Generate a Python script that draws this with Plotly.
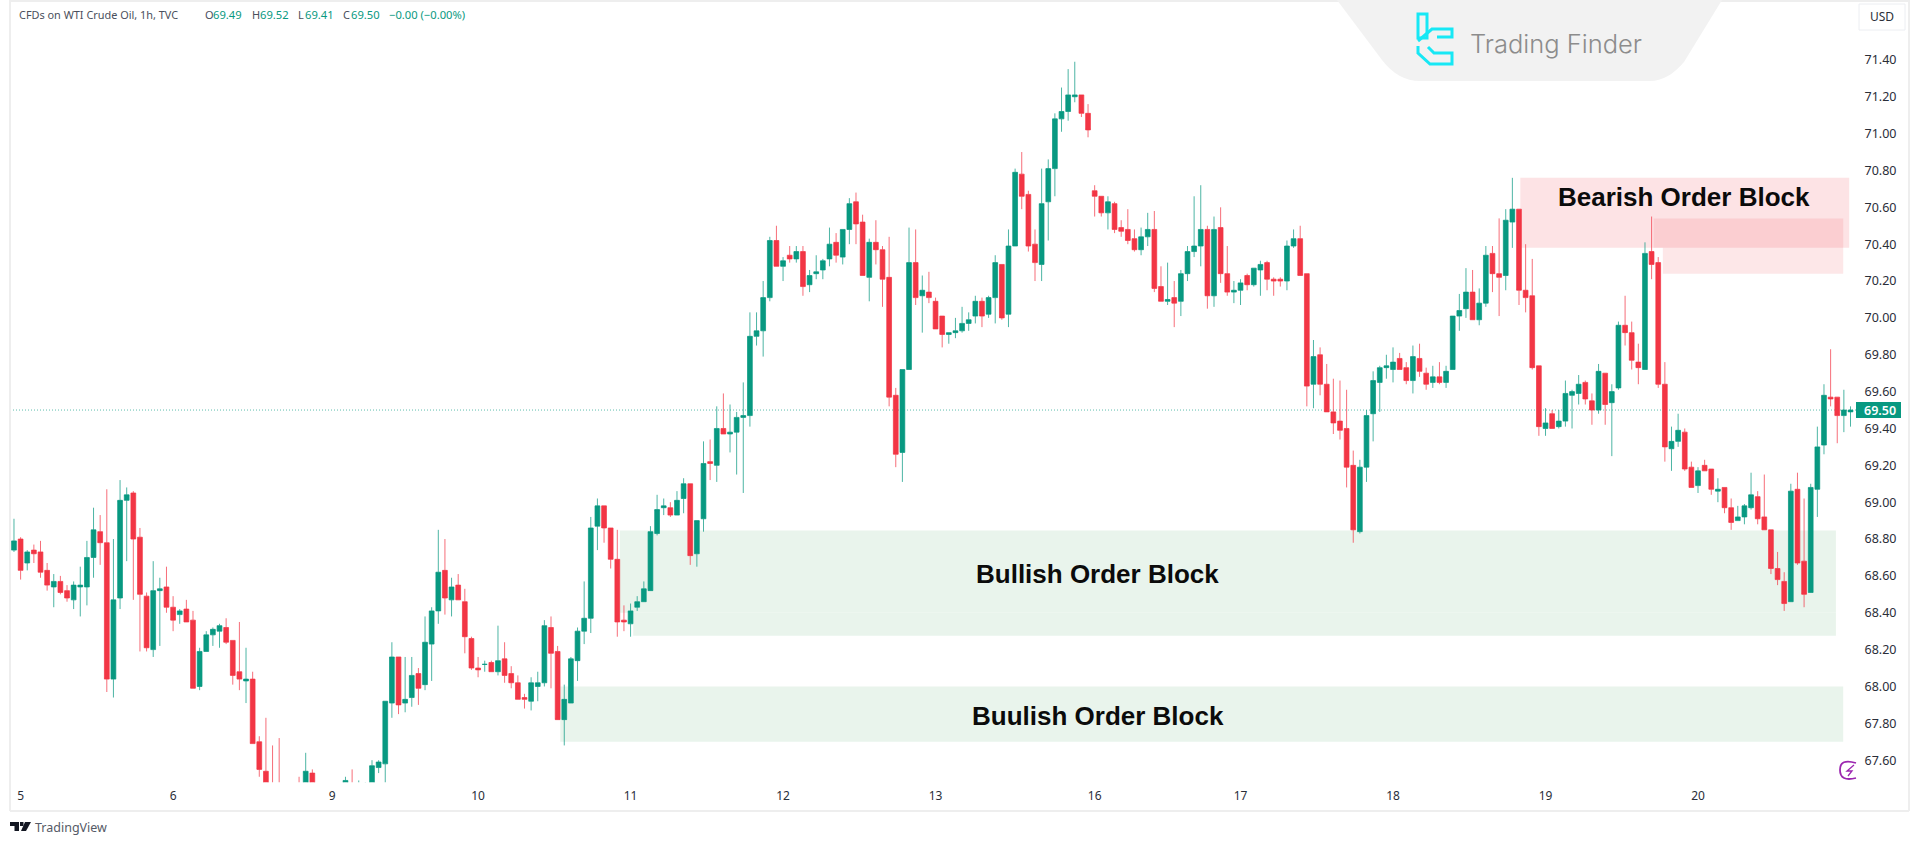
import plotly.graph_objects as go

W, H = 1920, 842

opens = [
 68.74,68.80,68.67,68.74,68.73,68.63,68.54,68.57,68.52,68.47,
 68.54,68.54,68.70,68.84,68.78,68.04,68.48,69.01,69.05,68.81,
 68.49,68.20,68.52,68.54,68.43,68.39,68.42,68.36,68.00,68.19,
 68.28,68.30,68.32,68.25,68.08,68.03,68.04,67.70,67.54,67.45,
 67.42,67.30,67.35,67.42,67.42,67.53,67.42,67.38,67.40,67.43,
 67.46,67.46,67.44,67.44,67.46,67.56,67.58,67.91,68.16,67.91,
 67.94,68.07,68.01,68.23,68.41,68.63,68.47,68.55,68.46,68.26,
 68.10,68.12,68.13,68.08,68.15,68.07,68.02,67.94,67.92,68.00,
 68.02,68.32,68.19,67.82,67.91,68.14,68.30,68.37,68.87,68.98,
 68.86,68.69,68.36,68.34,68.43,68.46,68.52,68.83,68.97,68.97,
 68.93,69.02,69.10,68.72,68.91,69.22,69.20,69.40,69.37,69.38,
 69.46,69.47,69.90,69.93,70.11,70.42,70.28,70.34,70.32,70.36,
 70.18,70.24,70.26,70.32,70.41,70.33,70.48,70.63,70.52,70.22,
 70.41,70.37,70.22,69.58,69.27,69.72,70.30,70.12,70.14,70.09,
 70.01,69.91,69.92,69.93,69.97,70.01,70.09,70.02,70.11,70.29,
 70.02,70.39,70.78,70.67,70.40,70.29,70.63,70.81,71.08,71.12,
 71.20,71.21,71.11,70.69,70.66,70.57,70.62,70.49,70.48,70.43,
 70.37,70.44,70.48,70.17,70.09,70.11,70.09,70.24,70.36,70.39,
 70.48,70.12,70.49,70.24,70.14,70.15,70.23,70.18,70.26,70.30,
 70.21,70.21,70.20,70.39,70.43,70.24,69.64,69.80,69.64,69.49,
 69.44,69.40,69.20,68.84,69.19,69.48,69.65,69.73,69.72,69.78,
 69.73,69.66,69.78,69.70,69.65,69.68,69.65,69.72,70.01,70.05,
 70.14,69.99,70.08,70.35,70.24,70.23,70.52,70.59,70.15,70.12,
 69.74,69.40,69.48,69.41,69.44,69.58,69.59,69.65,69.55,69.50,
 69.70,69.54,69.62,69.96,69.92,69.76,69.72,70.36,70.30,69.64,
 69.29,69.33,69.38,69.19,69.09,69.20,69.18,69.06,69.08,68.97,
 68.90,68.92,68.97,69.03,68.92,68.85,68.64,68.57,68.46,69.07,
 68.68,68.51,69.07,69.31,69.57,69.57,69.47,69.49,
]

highs = [
 68.91,68.81,68.74,68.77,68.79,68.67,68.61,68.60,68.55,68.57,
 68.65,68.79,68.97,68.93,69.07,68.80,69.12,69.08,69.06,68.86,
 68.51,68.68,68.59,68.65,68.49,68.42,68.47,68.41,68.21,68.30,
 68.32,68.34,68.37,68.25,68.35,68.21,68.08,67.73,67.83,67.68,
 67.72,67.40,67.44,67.51,67.64,67.55,67.45,67.44,67.45,67.45,
 67.51,67.55,67.49,67.48,67.60,67.60,67.92,68.24,68.16,68.16,
 68.16,68.10,68.38,68.43,68.85,68.80,68.59,68.61,68.53,68.27,
 68.16,68.14,68.14,68.33,68.24,68.11,68.06,67.96,68.05,68.08,
 68.36,68.38,68.22,68.01,68.16,68.32,68.57,68.92,69.02,68.98,
 68.86,68.85,68.44,68.45,68.49,68.57,68.87,69.04,69.02,69.00,
 69.06,69.13,69.10,68.90,69.33,69.34,69.52,69.59,69.53,69.49,
 69.65,70.03,70.03,70.20,70.44,70.50,70.33,70.39,70.39,70.39,
 70.26,70.34,70.32,70.49,70.46,70.48,70.65,70.68,70.56,70.43,
 70.53,70.39,70.44,69.62,69.72,70.49,70.48,70.23,70.25,70.11,
 70.01,69.92,70.00,70.06,70.03,70.12,70.11,70.12,70.34,70.29,
 70.48,70.81,70.90,70.69,70.48,70.81,70.86,71.11,71.25,71.35,
 71.39,71.21,71.16,70.72,70.66,70.66,70.63,70.53,70.59,70.48,
 70.49,70.57,70.58,70.28,70.30,70.20,70.26,70.39,70.66,70.72,
 70.50,70.55,70.60,70.39,70.20,70.21,70.24,70.27,70.31,70.31,
 70.22,70.22,70.42,70.48,70.50,70.24,69.88,69.84,69.75,69.67,
 69.66,69.61,69.28,69.23,69.50,69.71,69.74,69.80,69.84,69.81,
 69.76,69.85,69.86,69.73,69.74,69.76,69.74,70.01,70.13,70.27,
 70.26,70.16,70.39,70.39,70.54,70.59,70.76,70.59,70.40,70.32,
 69.74,69.51,69.50,69.50,69.66,69.61,69.69,69.66,69.59,69.75,
 69.70,69.64,69.98,70.12,69.98,69.86,70.41,70.55,70.33,69.76,
 69.41,69.48,69.40,69.22,69.19,69.23,69.18,69.13,69.08,69.02,
 68.98,68.99,69.16,69.06,69.15,68.85,68.73,68.62,69.10,69.16,
 69.02,69.10,69.41,69.64,69.83,69.57,69.61,69.52,
]

lows = [
 68.73,68.58,68.63,68.67,68.59,68.52,68.43,68.50,68.46,68.42,
 68.38,68.44,68.59,68.66,67.97,67.94,68.42,68.68,68.47,68.19,
 68.19,68.16,68.22,68.40,68.30,68.34,68.35,67.99,67.98,68.19,
 68.22,68.21,68.23,68.01,67.98,67.91,67.69,67.51,67.40,67.30,
 67.25,67.25,67.30,67.33,67.38,67.38,67.34,67.33,67.35,67.36,
 67.42,67.40,67.42,67.42,67.44,67.53,67.46,67.83,67.85,67.86,
 67.89,67.90,67.98,68.03,68.34,68.39,68.38,68.47,68.18,68.09,
 68.05,68.08,68.08,68.06,68.02,67.99,67.93,67.88,67.87,67.92,
 68.00,67.99,67.82,67.68,67.91,68.03,68.23,68.29,68.74,68.78,
 68.64,68.27,68.30,68.27,68.41,68.46,68.52,68.82,68.93,68.92,
 68.93,68.94,68.66,68.65,68.84,69.12,69.11,69.37,69.27,69.15,
 69.05,69.41,69.85,69.79,70.09,70.28,70.20,70.30,70.30,70.12,
 70.14,70.21,70.21,70.28,70.30,70.29,70.40,70.40,70.23,70.09,
 70.29,70.06,69.52,69.19,69.11,69.72,70.07,69.92,70.08,69.94,
 69.84,69.86,69.89,69.92,69.93,69.97,69.95,70.00,69.97,69.99,
 69.95,70.39,70.59,70.36,70.20,70.20,70.42,70.66,71.01,71.07,
 71.17,71.09,70.98,70.55,70.55,70.48,70.46,70.44,70.40,70.36,
 70.34,70.39,70.14,70.09,70.07,69.95,70.01,70.20,70.33,70.28,
 70.05,70.06,70.19,70.12,70.08,70.07,70.15,70.17,70.12,70.15,
 70.12,70.17,70.15,70.38,70.23,69.52,69.51,69.58,69.49,69.37,
 69.34,69.08,68.78,68.83,69.11,69.33,69.49,69.67,69.65,69.72,
 69.64,69.59,69.68,69.61,69.62,69.64,69.62,69.72,69.93,70.00,
 69.99,69.96,70.06,70.14,70.01,70.15,70.38,70.07,70.03,69.72,
 69.36,69.36,69.40,69.40,69.41,69.40,69.53,69.53,69.42,69.48,
 69.42,69.25,69.61,69.85,69.72,69.64,69.72,70.21,69.62,69.22,
 69.17,69.30,69.17,69.08,69.05,69.17,69.04,69.00,68.94,68.85,
 68.90,68.88,68.96,68.88,68.85,68.61,68.55,68.41,68.46,68.66,
 68.43,68.51,68.92,69.26,69.52,69.32,69.38,69.41,
]

closes = [
 68.79,68.63,68.73,68.72,68.62,68.55,68.57,68.51,68.48,68.55,
 68.55,68.70,68.85,68.78,68.04,68.47,69.01,69.04,68.80,68.50,
 68.21,68.52,68.53,68.43,68.36,68.41,68.35,67.99,68.19,68.28,
 68.31,68.33,68.24,68.06,68.04,68.04,67.69,67.55,67.45,67.35,
 67.30,67.35,67.40,67.38,67.54,67.42,67.38,67.40,67.43,67.41,
 67.49,67.44,67.46,67.46,67.57,67.59,67.92,68.16,67.90,67.93,
 68.06,67.99,68.24,68.41,68.62,68.48,68.54,68.47,68.27,68.10,
 68.09,68.12,68.08,68.14,68.06,68.02,67.93,67.93,68.02,68.02,
 68.33,68.18,67.82,67.93,68.15,68.30,68.37,68.86,68.98,68.86,
 68.69,68.35,68.35,68.41,68.46,68.53,68.84,68.96,68.98,68.93,
 69.01,69.10,68.71,68.90,69.21,69.21,69.40,69.37,69.38,69.46,
 69.47,69.90,69.93,70.11,70.42,70.28,70.31,70.32,70.36,70.17,
 70.23,70.25,70.31,70.40,70.34,70.48,70.62,70.51,70.23,70.41,
 70.37,70.21,69.57,69.26,69.72,70.30,70.11,70.15,70.11,69.94,
 69.91,69.92,69.93,69.97,69.99,70.09,70.01,70.11,70.30,70.00,
 70.39,70.79,70.66,70.39,70.30,70.62,70.81,71.08,71.12,71.21,
 71.21,71.11,71.02,70.66,70.57,70.63,70.48,70.47,70.42,70.37,
 70.44,70.48,70.16,70.09,70.10,70.08,70.24,70.36,70.39,70.48,
 70.12,70.48,70.24,70.14,70.15,70.19,70.18,70.27,70.29,70.21,
 70.20,70.20,70.39,70.43,70.23,69.63,69.79,69.64,69.49,69.43,
 69.39,69.19,68.85,69.19,69.47,69.66,69.73,69.74,69.76,69.72,
 69.66,69.79,69.71,69.64,69.68,69.65,69.71,70.01,70.04,70.14,
 69.99,70.08,70.34,70.24,70.22,70.53,70.59,70.15,70.11,69.73,
 69.41,69.43,69.40,69.44,69.59,69.60,69.64,69.56,69.50,69.71,
 69.53,69.60,69.96,69.92,69.77,69.73,70.35,70.29,69.64,69.30,
 69.33,69.39,69.18,69.08,69.17,69.17,69.07,69.07,68.97,68.89,
 68.92,68.98,69.04,68.91,68.85,68.64,68.58,68.45,69.06,68.67,
 68.50,69.08,69.30,69.58,69.56,69.47,69.50,69.50,
]

day_ticks = [1, 24, 48, 70, 93, 116, 139, 163, 185, 208, 231, 254]
day_labels = ["5", "6", "9", "10", "11", "12", "13", "16", "17", "18", "19", "20"]
price_ticks = [71.40, 71.20, 71.00, 70.80, 70.60, 70.40, 70.20, 70.00, 69.80, 69.60, 69.40,
               69.20, 69.00, 68.80, 68.60, 68.40, 68.20, 68.00, 67.80, 67.60]
last_price = 69.50

GREEN, RED = "#089981", "#f23645"
GREEN_LINE, RED_LINE = "rgba(8,153,129,0.72)", "rgba(242,54,69,0.72)"
TEXT = "#2a2e39"
AXFONT = "Noto Sans"

px = lambda x: x / W
py = lambda y: 1 - y / H


def path(cmds):
    """cmds: list of (letter, x, y) in page pixels, converted to paper units."""
    out = []
    for c in cmds:
        if len(c) == 1:
            out.append(c[0])
        elif c[0] == "Q":
            out.append(f"Q{px(c[1])},{py(c[2])} {px(c[3])},{py(c[4])}")
        else:
            out.append(f"{c[0]}{px(c[1])},{py(c[2])}")
    return " ".join(out)


def paper_path(cmds, fill="rgba(0,0,0,0)", color="rgba(0,0,0,0)", width=0, layer="above"):
    return dict(type="path", xref="paper", yref="paper", path=path(cmds), fillcolor=fill,
                line=dict(color=color, width=width), layer=layer)


def label(x, y, text, size=12, color=TEXT, family=AXFONT, anchor="left", weight=None, **kw):
    return dict(xref="paper", yref="paper", x=px(x), y=py(y), text=text, showarrow=False,
                xanchor=anchor, yanchor="middle",
                font=dict(size=size, color=color, family=family, weight=weight),
                **kw)


fig = go.Figure(go.Candlestick(
    x=list(range(len(opens))), open=opens, high=highs, low=lows, close=closes,
    whiskerwidth=0,
    increasing=dict(line=dict(color=GREEN_LINE, width=1), fillcolor=GREEN),
    decreasing=dict(line=dict(color=RED_LINE, width=1), fillcolor=RED),
    hoverinfo="skip",
))

ZG = "#e9f4ec"
PINK = "rgba(242,54,69,0.14)"
PINK2 = "rgba(242,54,69,0.12)"
shapes = [
    # zones, in chart coordinates
    dict(type="rect", xref="x", yref="y", x0=91.4, x1=274.8, y0=68.40, y1=68.846,
         fillcolor=ZG, line_width=0, layer="below"),
    dict(type="rect", xref="x", yref="y", x0=93.4, x1=274.8, y0=68.275, y1=68.40,
         fillcolor=ZG, line_width=0, layer="below"),
    dict(type="rect", xref="x", yref="y", x0=82.4, x1=275.9, y0=67.70, y1=68.00,
         fillcolor=ZG, line_width=0, layer="below"),
    dict(type="rect", xref="x", yref="y", x0=227.2, x1=276.8, y0=70.38, y1=70.76,
         fillcolor=PINK, line_width=0, layer="below"),
    dict(type="rect", xref="x", yref="y", x0=247.3, x1=275.9, y0=70.38, y1=70.54,
         fillcolor=PINK2, line_width=0, layer="below"),
    dict(type="rect", xref="x", yref="y", x0=248.7, x1=275.9, y0=70.24, y1=70.38,
         fillcolor=PINK2, line_width=0, layer="below"),
    # last price line
    dict(type="line", xref="paper", yref="y", x0=px(10), x1=px(1856), y0=last_price, y1=last_price,
         line=dict(color="rgba(8,153,129,0.65)", width=1, dash="1px,2px"), layer="below"),
    # frame
    dict(type="line", xref="paper", yref="paper", x0=px(10), x1=px(10), y0=py(0), y1=py(811),
         line=dict(color="#eeeeee", width=2), layer="below"),
    dict(type="line", xref="paper", yref="paper", x0=px(10), x1=px(1909), y0=py(811), y1=py(811),
         line=dict(color="#eeeeee", width=2), layer="below"),
    dict(type="line", xref="paper", yref="paper", x0=px(1909), x1=px(1909), y0=py(0), y1=py(811),
         line=dict(color="#eeeeee", width=2), layer="below"),
    dict(type="line", xref="paper", yref="paper", x0=px(10), x1=px(1909), y0=py(1), y1=py(1),
         line=dict(color="#eeeeee", width=2), layer="below"),
    # watermark tab
    paper_path([("M", 1337, 0), ("L", 1382, 60), ("Q", 1398, 81, 1420, 81), ("L", 1650, 81),
                ("Q", 1668, 81, 1684, 62), ("L", 1722, 0), ("Z",)], fill="#f2f2f2", layer="below"),
    # watermark glyph
    paper_path([("M", 1418, 14), ("L", 1427, 14), ("L", 1427, 38), ("L", 1418, 38), ("Z",)],
               color="#17e8f5", width=3),
    paper_path([("M", 1418, 41), ("L", 1432, 29), ("L", 1452, 29), ("L", 1452, 37), ("L", 1437, 37)],
               color="#17e8f5", width=3),
    paper_path([("M", 1418, 46), ("L", 1418, 53), ("L", 1430, 64), ("L", 1452, 64), ("L", 1452, 53),
                ("L", 1434, 53), ("L", 1428, 47)], color="#17e8f5", width=3),
    # USD box
    dict(type="rect", xref="paper", yref="paper", x0=px(1859), x1=px(1905), y0=py(30), y1=py(4),
         fillcolor="white", line=dict(color="#eceef2", width=1)),
    # last price flag
    dict(type="rect", xref="paper", yref="y", x0=px(1856), x1=px(1901), y0=last_price - 0.043,
         y1=last_price + 0.043, fillcolor=GREEN, line_width=0),
    # TradingView mark
    paper_path([("M", 10, 822), ("L", 19, 822), ("L", 19, 831), ("L", 14.5, 831), ("L", 14.5, 826),
                ("L", 10, 826), ("Z",)], fill="#131722"),
    paper_path([("M", 20, 822), ("L", 23.5, 822), ("L", 23.5, 826), ("L", 20, 826), ("Z",)], fill="#131722"),
    paper_path([("M", 25, 822), ("L", 31, 822), ("L", 26, 831), ("L", 21, 831), ("Z",)], fill="#131722"),
    # corner bolt badge
    paper_path([("M", 1856, 763), ("Q", 1840, 758, 1840, 770), ("Q", 1840, 782, 1856, 778)],
               color="#9c27b0", width=1.8),
    paper_path([("M", 1854, 765), ("L", 1847, 771), ("L", 1852, 771), ("L", 1848, 776)],
               color="#9c27b0", width=1.3),
]

annotations = [
    label(16.5, 15, "CFDs on WTI Crude Oil, 1h, TVC", size=10.9, color="#4a4f5c"),
    label(202.5, 15, "O", size=11, color="#4a4f5c"),
    label(211, 15, "69.49", size=11.2, color=GREEN),
    label(249.5, 15, "H", size=11, color="#4a4f5c"),
    label(257.5, 15, "69.52", size=11.2, color=GREEN),
    label(296, 15, "L", size=11, color="#4a4f5c"),
    label(303, 15, "69.41", size=11.2, color=GREEN),
    label(341, 15, "C", size=11, color="#4a4f5c"),
    label(349, 15, "69.50", size=11.2, color=GREEN),
    label(387, 15, "\u22120.00 (\u22120.00%)", size=11.2, color=GREEN),
    label(1882, 17, "USD", size=12, anchor="center", color="#2a2e39"),
    label(1880, 410, "69.50", size=12.5, color="white", anchor="center", weight=600),
    label(1556, 44, "Trading Finder", size=25.5, color="#8c8c8c", family="Inter", anchor="center", weight=300),
    label(33, 827, "TradingView", size=12.5, color="#555a66"),
    label(1684, 197, "Bearish Order Block", size=26, color="#0b0b0b", family="Liberation Sans",
          anchor="center", weight=700),
    label(1097, 574, "Bullish Order Block", size=26, color="#0b0b0b", family="Liberation Sans",
          anchor="center", weight=700),
    label(1098, 716, "Buulish Order Block", size=26, color="#0b0b0b", family="Liberation Sans",
          anchor="center", weight=700),
]

fig.update_layout(
    width=W, height=H, autosize=False,
    margin=dict(l=0, r=0, t=0, b=0, pad=0),
    paper_bgcolor="white", plot_bgcolor="white",
    showlegend=False, dragmode=False, hovermode=False,
    boxgap=0.28, boxgroupgap=0,
    xaxis=dict(
        domain=[px(10), px(1856)], range=[-0.6, 277.83], rangeslider=dict(visible=False),
        tickmode="array", tickvals=day_ticks, ticktext=day_labels,
        showgrid=False, zeroline=False, showline=False, ticks="outside", ticklen=2,
        tickcolor="rgba(0,0,0,0)", tickfont=dict(size=12, color=TEXT, family=AXFONT),
    ),
    yaxis=dict(
        domain=[py(782.3), 1], range=[67.48, 71.725], side="right", anchor="x",
        tickmode="array", tickvals=price_ticks, tickformat=".2f",
        showgrid=False, zeroline=False, showline=False, ticks="outside", ticklen=5,
        tickcolor="rgba(0,0,0,0)", tickfont=dict(size=12.5, color=TEXT, family=AXFONT),
    ),
    shapes=shapes, annotations=annotations,
)

fig.write_html("out.html", config=dict(displayModeBar=False),
               post_script="document.body.style.margin='0';document.body.style.overflow='hidden';")
